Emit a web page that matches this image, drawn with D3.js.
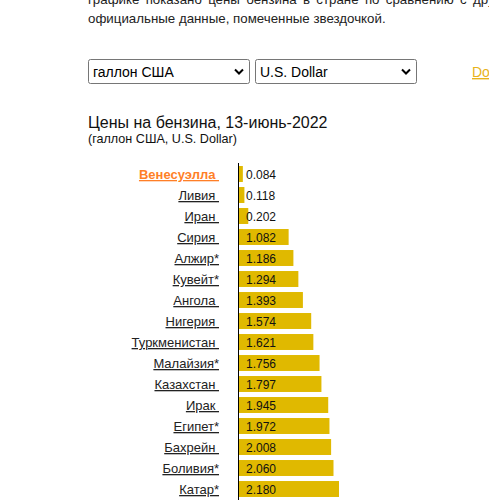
<!DOCTYPE html>
<html><head><meta charset="utf-8">
<script src="https://cdn.jsdelivr.net/npm/d3@7"></script>
<style>
html,body{margin:0;padding:0;background:#fff;overflow:hidden;}
svg{display:block;font-family:"Liberation Sans",Arial,sans-serif;}
</style></head><body>
<script>
const countries = ["Венесуэлла","Ливия","Иран","Сирия","Алжир*","Кувейт*","Ангола","Нигерия","Туркменистан","Малайзия*","Казахстан","Ирак","Египет*","Бахрейн","Боливия*","Катар*"];
const prices = [0.084,0.118,0.202,1.082,1.186,1.294,1.393,1.574,1.621,1.756,1.797,1.945,1.972,2.008,2.060,2.180];
const highlighted = ["Венесуэлла"];
const introLines = ["графике показано цены бензина в стране по сравнению с другими","официальные данные, помеченные звездочкой."];
const unitOption = "галлон США";
const currencyOption = "U.S. Dollar";
const titleText = "Цены на бензина, 13-июнь-2022";
const subtitleText = "(галлон США, U.S. Dollar)";

const W = 489, H = 500;
const svg = d3.select("body").append("svg").attr("width", W).attr("height", H);

// intro text
svg.append("text").attr("x",88).attr("y",4).attr("font-size",13.3).attr("fill","#222")
  .attr("word-spacing",2.6).text(introLines[0]);
svg.append("text").attr("x",88).attr("y",23).attr("font-size",13.3).attr("fill","#222").text(introLines[1]);

// selects
function sel(x, w, label){
  const g = svg.append("g");
  g.append("rect").attr("x",x+0.5).attr("y",59.5).attr("width",w).attr("height",24).attr("rx",2)
    .attr("fill","#fff").attr("stroke","#767676");
  g.append("text").attr("x",x+5).attr("y",76.5).attr("font-size",14).attr("fill","#000").text(label);
  const cx = x + w - 10;
  g.append("path").attr("d",`M${cx-4},${69.5} L${cx},${73.5} L${cx+4},${69.5}`)
    .attr("fill","none").attr("stroke","#000").attr("stroke-width",2);
}
sel(88,161,unitOption);
sel(255,161,currencyOption);
svg.append("text").attr("x",472).attr("y",77).attr("font-size",14).attr("fill","#e8b31a")
  .attr("text-decoration","underline").text("Download");

// title
svg.append("text").attr("x",88).attr("y",128).attr("font-size",16).attr("fill","#111").text(titleText);
svg.append("text").attr("x",88).attr("y",143).attr("font-size",12.6).attr("fill","#111").text(subtitleText);

// chart
const x = d3.scaleLinear().domain([0, 2.18]).range([239, 339]);
const y = d3.scaleBand().domain(countries).range([163.5, 163.5 + 21*countries.length]).paddingInner(0.24).paddingOuter(0.12);

svg.selectAll("rect.bar").data(countries).join("rect").attr("class","bar")
  .attr("x", x(0)).attr("y", d => y(d)).attr("height", y.bandwidth())
  .attr("width", (d,i) => x(prices[i]) - x(0)).attr("fill","#e0b900");

svg.selectAll("text.val").data(countries).join("text").attr("class","val")
  .attr("x", x(0)+7).attr("y", d => y(d) + y.bandwidth()/2 + 4.5)
  .attr("font-size",12).attr("fill","#111").text((d,i) => prices[i].toFixed(3));

svg.selectAll("text.lab").data(countries).join("text").attr("class","lab")
  .attr("x", 219).attr("y", d => y(d) + y.bandwidth()/2 + 5)
  .attr("text-anchor","end").attr("font-size",13)
  .attr("font-weight", d => highlighted.includes(d) ? "bold" : "normal")
  .attr("fill", d => highlighted.includes(d) ? "#ff7f27" : "#222")
  .attr("text-decoration","underline").style("white-space","pre")
  .text(d => d.endsWith("*") ? d : d + "\u00a0");

svg.append("line").attr("x1",238.5).attr("x2",238.5).attr("y1",163).attr("y2",H)
  .attr("stroke","#000").attr("stroke-width",1);
</script>
</body></html>
